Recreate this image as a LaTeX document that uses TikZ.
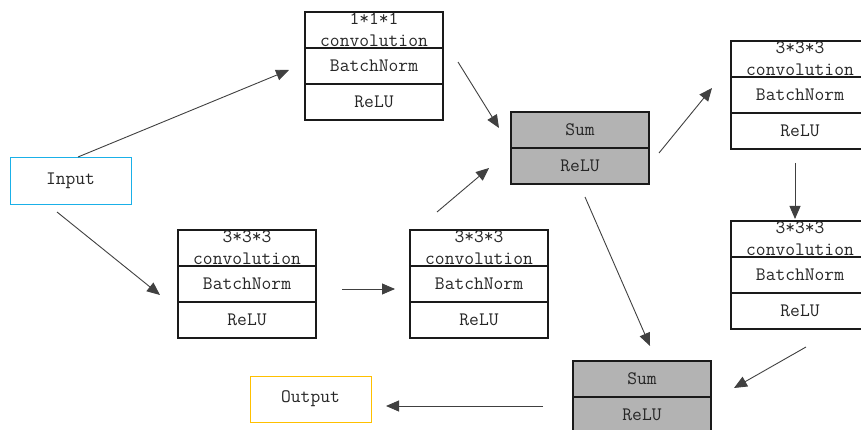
\documentclass[tikz,border=0pt]{standalone}
\usepackage{fontspec}
\usepackage{xcolor}
\usepackage{tikz}
\usetikzlibrary{positioning,arrows.meta}
\definecolor{edge}{HTML}{1A1A1A}
\definecolor{arrowc}{HTML}{404040}
\definecolor{sumbg}{HTML}{B3B3B3}
\definecolor{inbd}{HTML}{1AB0E8}
\definecolor{outbd}{HTML}{FFC000}
\tikzset{
  cell/.style={draw=edge, line width=1.1pt, minimum width=138pt, minimum height=36pt,
    inner sep=0pt, outer sep=0pt, align=center, text=black!85,
    font=\ttfamily\fontsize{19}{22}\selectfont},
  sumcell/.style={cell, fill=sumbg},
  io/.style={line width=0.9pt, minimum width=121pt, minimum height=47pt,
    inner sep=0pt, outer sep=0pt, text=black!85, font=\ttfamily\fontsize{19}{22}\selectfont},
  flow/.style={draw=arrowc, line width=0.9pt, -{Triangle[length=13pt,width=11pt]}}
}

\begin{document}
\begin{tikzpicture}[x=1pt,y=-1pt]
  \useasboundingbox (0,0) rectangle (861,430);

  % inputs and outputs
  \node[io, draw=inbd] (input) at (70.5,180.5) {Input};
  \node[io, draw=outbd, minimum height=46pt] (output) at (310.5,399) {Output};

  % 1*1*1 branch
  \node[cell] (a1) at (374,30) {1*1*1\\convolution};
  \node[cell, below=0pt of a1] (a2) {BatchNorm};
  \node[cell, below=0pt of a2] (a3) {ReLU};

  % two 3*3*3 blocks
  \node[cell] (b1) at (247,248) {3*3*3\\convolution};
  \node[cell, below=0pt of b1] (b2) {BatchNorm};
  \node[cell, below=0pt of b2] (b3) {ReLU};

  \node[cell] (c1) at (479,248) {3*3*3\\convolution};
  \node[cell, below=0pt of c1] (c2) {BatchNorm};
  \node[cell, below=0pt of c2] (c3) {ReLU};

  % first sum
  \node[sumcell] (s1) at (580,130) {Sum};
  \node[sumcell, below=0pt of s1] (s1r) {ReLU};

  % right column
  \node[cell] (d1) at (800,59) {3*3*3\\convolution};
  \node[cell, below=0pt of d1] (d2) {BatchNorm};
  \node[cell, below=0pt of d2] (d3) {ReLU};

  \node[cell] (e1) at (800,239) {3*3*3\\convolution};
  \node[cell, below=0pt of e1] (e2) {BatchNorm};
  \node[cell, below=0pt of e2] (e3) {ReLU};

  % second sum
  \node[sumcell] (s2) at (642,379) {Sum};
  \node[sumcell, below=0pt of s2] (s2r) {ReLU};

  % arrows
  \draw[flow] ([xshift=7.5pt]input.north) -- ([xshift=-16pt,yshift=-4pt]a2.west);
  \draw[flow] ([xshift=-13.5pt,yshift=-8pt]input.south) -- ([xshift=-18pt,yshift=-11pt]b2.west);
  \draw[flow] ([xshift=15pt,yshift=4pt]a2.east) -- ([xshift=-12pt,yshift=2pt]s1.west);
  \draw[flow] ([xshift=26pt,yshift=-5pt]b2.east) -- ([xshift=-15pt,yshift=-5pt]c2.west);
  \draw[flow] ([xshift=-42pt,yshift=18pt]c1.north) -- ([xshift=-22pt,yshift=-2pt]s1r.west);
  \draw[flow] ([xshift=10pt,yshift=13pt]s1r.east) -- ([xshift=-19pt,yshift=7pt]d2.west);
  \draw[flow] ([xshift=-5pt,yshift=-14pt]d3.south) -- ([xshift=-5pt,yshift=2pt]e1.north);
  \draw[flow] ([xshift=6pt,yshift=-18pt]e3.south) -- ([xshift=23pt,yshift=-9pt]s2.east);
  \draw[flow] ([xshift=5pt,yshift=-13pt]s1r.south) -- ([xshift=8pt,yshift=15pt]s2.north);
  \draw[flow] ([xshift=-30pt,yshift=9pt]s2r.west) -- ([xshift=15pt,yshift=-7pt]output.east);
\end{tikzpicture}
\end{document}
